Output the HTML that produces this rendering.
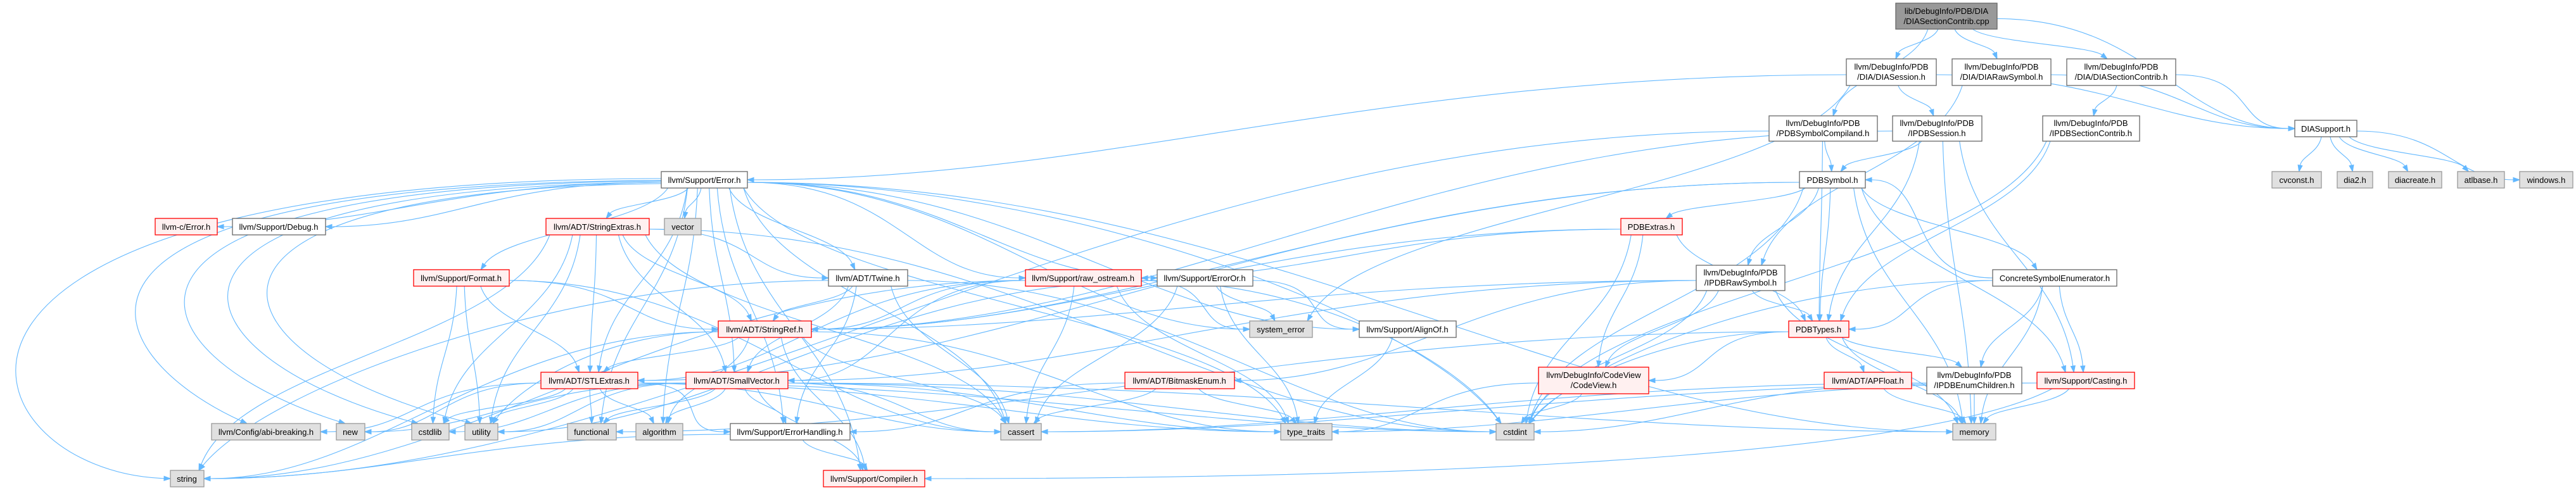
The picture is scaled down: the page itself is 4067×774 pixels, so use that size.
<!DOCTYPE html>
<html><head><meta charset="utf-8">
<style>
html,body{margin:0;padding:0;background:#fff;}
svg{display:block;}
text{font-family:"Liberation Sans",Arial,sans-serif;font-size:13px;fill:#000;text-anchor:middle;}
.w{fill:#fff;stroke:#666;stroke-width:1.3;}
.r{fill:#fff0f0;stroke:#f00;stroke-width:1.3;}
.g{fill:#e0e0e0;stroke:#999;stroke-width:1.3;}
.r0{fill:#999;stroke:#666;stroke-width:1.3;}
.e{fill:none;stroke:#63b8ff;stroke-width:1.1;}
.a{fill:#63b8ff;stroke:#63b8ff;stroke-width:1;}
</style></head>
<body>
<svg id="s" width="4067" height="774" viewBox="0 0 4067 774" xmlns="http://www.w3.org/2000/svg">
<g id="edges"></g>
<g id="nodes">
<g><rect id="root" x="2993" y="5" width="160" height="41" class="r0"/><text x="3073" y="22">lib/DebugInfo/PDB/DIA</text><text x="3073" y="38">/DIASectionContrib.cpp</text></g>
<g><rect id="dses" x="2915" y="93" width="142" height="42" class="w"/><text x="2986" y="110">llvm/DebugInfo/PDB</text><text x="2986" y="126">/DIA/DIASession.h</text></g>
<g><rect id="draw" x="3082" y="93" width="156" height="42" class="w"/><text x="3160" y="110">llvm/DebugInfo/PDB</text><text x="3160" y="126">/DIA/DIARawSymbol.h</text></g>
<g><rect id="dsc" x="3263" y="93" width="172" height="42" class="w"/><text x="3349" y="110">llvm/DebugInfo/PDB</text><text x="3349" y="126">/DIA/DIASectionContrib.h</text></g>
<g><rect id="comp" x="2793" y="183" width="171" height="40" class="w"/><text x="2878" y="199">llvm/DebugInfo/PDB</text><text x="2878" y="215">/PDBSymbolCompiland.h</text></g>
<g><rect id="ises" x="2988" y="183" width="141" height="40" class="w"/><text x="3058" y="199">llvm/DebugInfo/PDB</text><text x="3058" y="215">/IPDBSession.h</text></g>
<g><rect id="isc" x="3225" y="183" width="153" height="40" class="w"/><text x="3301" y="199">llvm/DebugInfo/PDB</text><text x="3301" y="215">/IPDBSectionContrib.h</text></g>
<g><rect id="dsup" x="3623" y="190" width="98" height="26" class="w"/><text x="3672" y="208">DIASupport.h</text></g>
<g><rect id="cvc" x="3587" y="271" width="78" height="26" class="g"/><text x="3626" y="289">cvconst.h</text></g>
<g><rect id="dia2" x="3690" y="271" width="56" height="26" class="g"/><text x="3718" y="289">dia2.h</text></g>
<g><rect id="diac" x="3771" y="271" width="84" height="26" class="g"/><text x="3813" y="289">diacreate.h</text></g>
<g><rect id="atl" x="3880" y="271" width="74" height="26" class="g"/><text x="3917" y="289">atlbase.h</text></g>
<g><rect id="win" x="3978" y="271" width="84" height="26" class="g"/><text x="4020" y="289">windows.h</text></g>
<g><rect id="err" x="1044" y="271" width="136" height="26" class="w"/><text x="1112" y="289">llvm/Support/Error.h</text></g>
<g><rect id="sym" x="2841" y="271" width="104" height="26" class="w"/><text x="2893" y="289">PDBSymbol.h</text></g>
<g><rect id="cerr" x="245" y="345" width="98" height="26" class="r"/><text x="294" y="363">llvm-c/Error.h</text></g>
<g><rect id="dbg" x="367" y="345" width="147" height="26" class="w"/><text x="440" y="363">llvm/Support/Debug.h</text></g>
<g><rect id="sext" x="862" y="345" width="163" height="26" class="r"/><text x="943" y="363">llvm/ADT/StringExtras.h</text></g>
<g><rect id="vec" x="1049" y="345" width="58" height="26" class="g"/><text x="1078" y="363">vector</text></g>
<g><rect id="pext" x="2559" y="345" width="97" height="26" class="r"/><text x="2607" y="363">PDBExtras.h</text></g>
<g><rect id="fmt" x="653" y="426" width="151" height="26" class="r"/><text x="728" y="444">llvm/Support/Format.h</text></g>
<g><rect id="twine" x="1308" y="426" width="125" height="26" class="w"/><text x="1370" y="444">llvm/ADT/Twine.h</text></g>
<g><rect id="raw" x="1619" y="426" width="183" height="26" class="r"/><text x="1710" y="444">llvm/Support/raw_ostream.h</text></g>
<g><rect id="eor" x="1827" y="426" width="151" height="26" class="w"/><text x="1902" y="444">llvm/Support/ErrorOr.h</text></g>
<g><rect id="irs" x="2678" y="419" width="140" height="40" class="w"/><text x="2748" y="435">llvm/DebugInfo/PDB</text><text x="2748" y="451">/IPDBRawSymbol.h</text></g>
<g><rect id="cse" x="3146" y="426" width="196" height="26" class="w"/><text x="3244" y="444">ConcreteSymbolEnumerator.h</text></g>
<g><rect id="sref" x="1134" y="507" width="147" height="26" class="r"/><text x="1207" y="525">llvm/ADT/StringRef.h</text></g>
<g><rect id="syse" x="1973" y="507" width="99" height="26" class="g"/><text x="2022" y="525">system_error</text></g>
<g><rect id="align" x="2146" y="507" width="153" height="26" class="w"/><text x="2222" y="525">llvm/Support/AlignOf.h</text></g>
<g><rect id="ptyp" x="2824" y="507" width="95" height="26" class="r"/><text x="2871" y="525">PDBTypes.h</text></g>
<g><rect id="stl" x="854" y="588" width="153" height="26" class="r"/><text x="930" y="606">llvm/ADT/STLExtras.h</text></g>
<g><rect id="svec" x="1083" y="588" width="161" height="26" class="r"/><text x="1163" y="606">llvm/ADT/SmallVector.h</text></g>
<g><rect id="bme" x="1776" y="588" width="173" height="26" class="r"/><text x="1862" y="606">llvm/ADT/BitmaskEnum.h</text></g>
<g><rect id="cv" x="2429" y="580" width="174" height="42" class="r"/><text x="2516" y="597">llvm/DebugInfo/CodeView</text><text x="2516" y="613">/CodeView.h</text></g>
<g><rect id="apf" x="2880" y="588" width="138" height="26" class="r"/><text x="2949" y="606">llvm/ADT/APFloat.h</text></g>
<g><rect id="iec" x="3042" y="580" width="150" height="42" class="w"/><text x="3117" y="597">llvm/DebugInfo/PDB</text><text x="3117" y="613">/IPDBEnumChildren.h</text></g>
<g><rect id="cast" x="3216" y="588" width="154" height="26" class="r"/><text x="3293" y="606">llvm/Support/Casting.h</text></g>
<g><rect id="abi" x="334" y="669" width="172" height="26" class="g"/><text x="420" y="687">llvm/Config/abi-breaking.h</text></g>
<g><rect id="new" x="531" y="669" width="45" height="26" class="g"/><text x="553" y="687">new</text></g>
<g><rect id="cstdlib" x="650" y="669" width="59" height="26" class="g"/><text x="679" y="687">cstdlib</text></g>
<g><rect id="util" x="734" y="669" width="52" height="26" class="g"/><text x="760" y="687">utility</text></g>
<g><rect id="func" x="896" y="669" width="77" height="26" class="g"/><text x="934" y="687">functional</text></g>
<g><rect id="algo" x="1004" y="669" width="74" height="26" class="g"/><text x="1041" y="687">algorithm</text></g>
<g><rect id="eh" x="1153" y="669" width="189" height="26" class="w"/><text x="1247" y="687">llvm/Support/ErrorHandling.h</text></g>
<g><rect id="cassert" x="1580" y="669" width="64" height="26" class="g"/><text x="1612" y="687">cassert</text></g>
<g><rect id="tt" x="2022" y="669" width="81" height="26" class="g"/><text x="2062" y="687">type_traits</text></g>
<g><rect id="cint" x="2362" y="669" width="60" height="26" class="g"/><text x="2392" y="687">cstdint</text></g>
<g><rect id="mem" x="3083" y="669" width="68" height="26" class="g"/><text x="3117" y="687">memory</text></g>
<g><rect id="str" x="269" y="743" width="53" height="26" class="g"/><text x="295" y="761">string</text></g>
<g><rect id="compl" x="1300" y="743" width="160" height="26" class="r"/><text x="1380" y="761">llvm/Support/Compiler.h</text></g>
</g>
</svg>
<script>
(function(){
var E=("root>dses root>draw root>dsc root>dsup root>comp "+
"dses>err dses>syse dses>dsup dses>ises draw>irs draw>dsup dsc>isc dsc>dsup "+
"dsup>cvc dsup>dia2 dsup>diac dsup>atl dsup>win "+
"comp>sym comp>str comp>ptyp ises>sym ises>sref ises>ptyp ises>cast ises>mem isc>ptyp isc>cint "+
"sym>pext sym>irs sym>ptyp sym>cse sym>cast sym>mem sym>stl sym>sref sym>cint "+
"pext>raw pext>sref pext>cv pext>ptyp pext>cint "+
"irs>ptyp irs>cv irs>bme irs>svec irs>mem irs>cint irs>sref "+
"cse>ptyp cse>iec cse>cast cse>mem cse>cint cse>sym "+
"ptyp>cv ptyp>apf ptyp>iec ptyp>cint ptyp>mem ptyp>func "+
"apf>mem iec>mem iec>cassert iec>cint cast>mem cast>cassert cast>tt cast>compl cv>tt cv>cint "+
"bme>cassert bme>tt bme>eh "+
"err>cerr err>dbg err>sext err>vec err>fmt err>twine err>raw err>eor err>syse err>align err>stl err>svec err>abi err>new err>cstdlib err>util err>func err>algo err>eh err>cassert err>tt err>cint err>mem err>str err>compl "+
"sext>sref sext>twine sext>stl sext>svec sext>cstdlib sext>util sext>str sext>cassert sext>cint "+
"fmt>stl fmt>sref fmt>util fmt>cassert fmt>cstdlib "+
"twine>sref twine>svec twine>eh twine>cassert twine>str twine>cint "+
"raw>sref raw>stl raw>svec raw>syse raw>cassert raw>tt raw>cint raw>str "+
"eor>align eor>syse eor>cassert eor>tt eor>util "+
"sref>stl sref>compl sref>algo sref>cassert sref>tt sref>str sref>util "+
"stl>util stl>cstdlib stl>func stl>algo stl>eh stl>cassert stl>tt stl>cint stl>abi stl>new "+
"svec>eh svec>compl svec>algo svec>func svec>util svec>cstdlib svec>cassert svec>tt svec>cint svec>mem svec>new "+
"eh>compl eh>str align>tt").split(/\s+/).filter(Boolean);
var O={
 "err>str":[1044,282,-250,285,-60,745,269,756],
 "err>abi":[1044,285,0,290,150,560,390,669],
 "err>new":[1044,286,80,292,200,560,545,669],
 "err>cstdlib":[1044,288,150,296,260,560,660,669],
 "err>util":[1044,290,220,300,320,560,745,669],
 "cast>compl":[3240,614,3000,740,2000,756,1460,756]
};
function R(id){var r=document.getElementById(id);var x=+r.getAttribute('x'),y=+r.getAttribute('y'),w=+r.getAttribute('width'),h=+r.getAttribute('height');return {x1:x,x2:x+w,y1:y,y2:y+h,cx:x+w/2,cy:y+h/2};}
var g=document.getElementById('edges'),out="";
function cl(v,a,b){return Math.max(a,Math.min(b,v));}
E.forEach(function(p){
 var q=p.split('>'),s=R(q[0]),t=R(q[1]);
 var dx=t.cx-s.cx, dy=t.y1-s.y2;
 var sx,sy,c1x,c1y,tx,ty,c2x,c2y;
 if(O[p]){var o=O[p];sx=o[0];sy=o[1];c1x=o[2];c1y=o[3];c2x=o[4];c2y=o[5];tx=o[6];ty=o[7];}
 else{
 var sideS=Math.abs(dx)>3*Math.max(dy,1)&&Math.abs(dx)>300;
 var sideT=Math.abs(dx)>4*Math.max(dy,1)&&Math.abs(dx)>300;
 if(sideS){sx=dx<0?s.x1:s.x2;sy=cl(s.cy+(dy>0?4:0),s.y1+4,s.y2-4);c1x=sx+dx*0.4;c1y=sy;}
 else{sx=cl(s.cx+dx*0.15,s.x1+6,s.x2-6);sy=s.y2;c1x=sx+dx*0.1;c1y=sy+Math.max(dy,20)*0.45;}
 if(sideT){tx=dx<0?t.x2:t.x1;ty=t.cy;c2x=tx-dx*0.3;c2y=ty;}
 else{tx=cl(t.cx-dx*0.08,t.x1+8,t.x2-8);ty=t.y1;c2x=tx-dx*0.1;c2y=ty-Math.max(dy,20)*0.45;}
 }
 var vx=tx-c2x,vy=ty-c2y,L=Math.hypot(vx,vy)||1;vx/=L;vy/=L;
 var bx=tx-vx*10,by=ty-vy*10,px=-vy*3.5,py=vx*3.5;
 out+='<path class="e" d="M'+sx.toFixed(1)+','+sy.toFixed(1)+' C'+c1x.toFixed(1)+','+c1y.toFixed(1)+' '+c2x.toFixed(1)+','+c2y.toFixed(1)+' '+bx.toFixed(1)+','+by.toFixed(1)+'"/>';
 out+='<polygon class="a" points="'+tx.toFixed(1)+','+ty.toFixed(1)+' '+(bx+px).toFixed(1)+','+(by+py).toFixed(1)+' '+(bx-px).toFixed(1)+','+(by-py).toFixed(1)+'"/>';
});
g.innerHTML=out;
})();
</script>
</body></html>
